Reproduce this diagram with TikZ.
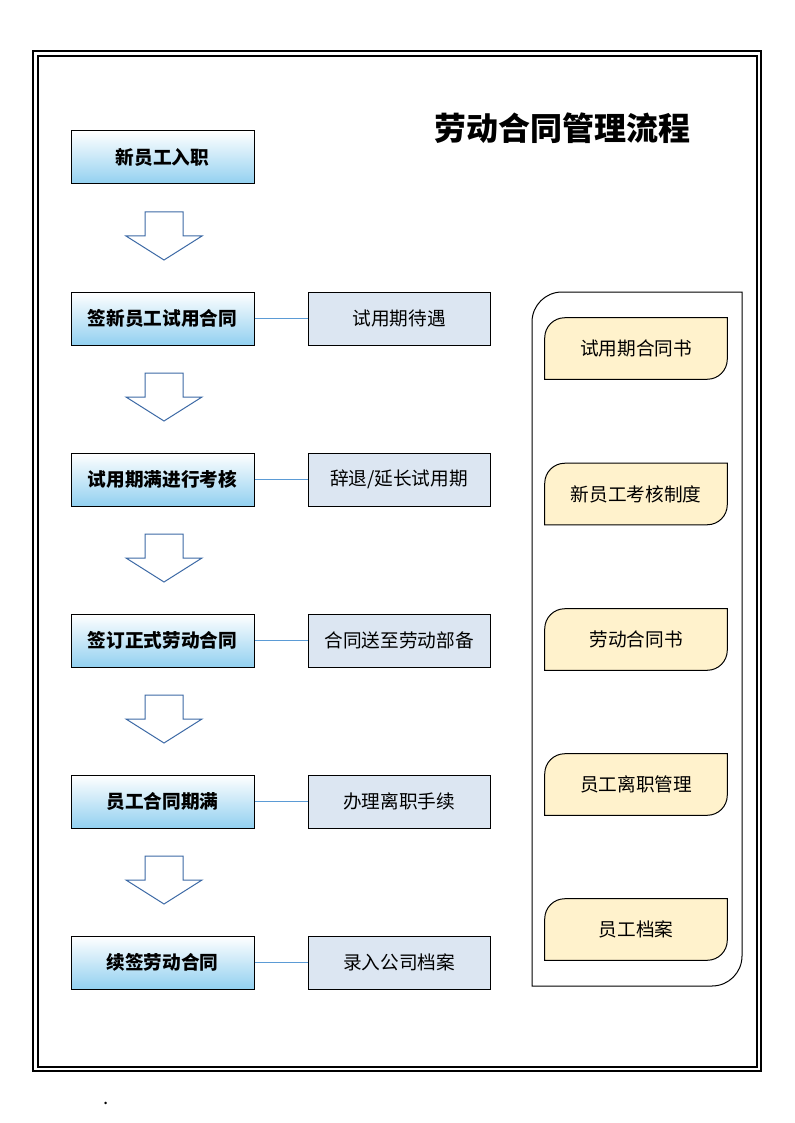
\documentclass[tikz,border=0pt]{standalone}
\usepackage{fontspec}
\setmainfont{Noto Sans CJK SC}
\usetikzlibrary{backgrounds}
\definecolor{linkblue}{RGB}{91,155,213}
\definecolor{arrblue}{RGB}{60,105,165}
\definecolor{notefill}{RGB}{220,230,242}
\definecolor{docfill}{RGB}{255,242,204}
\definecolor{stagebot}{RGB}{146,208,240}
\tikzset{
  stage/.style={draw,line width=0.75pt,top color=white,bottom color=stagebot,
    minimum width=137.25pt,minimum height=39.75pt,inner sep=0pt,font=\fontsize{14pt}{16pt}\selectfont\bfseries},
  note/.style={draw,line width=0.75pt,fill=notefill,minimum width=136.5pt,minimum height=39.75pt,inner sep=0pt},
  doc/.style={minimum width=136.5pt,minimum height=45.75pt,inner sep=0pt},
  docshape/.style={draw,line width=0.75pt,fill=docfill},
  link/.style={linkblue,line width=0.75pt},
  blockarrow/.style={arrblue,line width=0.75pt,fill=white}
}
\begin{document}
\begin{tikzpicture}[x=0.75pt,y=-0.75pt,font=\fontsize{14pt}{16pt}\selectfont]
  \useasboundingbox (0,0) rectangle (794,1123);
  % page frame
  \draw[line width=1pt] (33,51) rectangle (761,1071);
  \draw[line width=1pt] (38,56) rectangle (757,1067);
  \node[font=\fontsize{24pt}{28pt}\selectfont\bfseries] (title) at (562,128) {劳动合同管理流程};
  % steps
  \node[stage] (s1) at (162.5,157.5) {新员工入职};
  \node[stage] (s2) at (162.5,318.5) {签新员工试用合同};
  \node[stage] (s3) at (162.5,479.5) {试用期满进行考核};
  \node[stage] (s4) at (162.5,640.5) {签订正式劳动合同};
  \node[stage] (s5) at (162.5,801.5) {员工合同期满};
  \node[stage] (s6) at (162.5,962.5) {续签劳动合同};
  % notes
  \node[note] (n2) at (399,318.5) {试用期待遇};
  \node[note] (n3) at (399,479.5) {辞退/延长试用期};
  \node[note] (n4) at (399,640.5) {合同送至劳动部备};
  \node[note] (n5) at (399,801.5) {办理离职手续};
  \node[note] (n6) at (399,962.5) {录入公司档案};
  \foreach \i in {2,...,6}
    \draw[link] (s\i) -- (n\i);
  % block arrows
  \foreach \y in {212,373,534,695,856}
    \draw[blockarrow] (145,\y) -- (183,\y) -- (183,\y+24) -- (202,\y+24)
      -- (164,\y+48) -- (126,\y+24) -- (145,\y+24) -- cycle;
  % documents
  \draw[line width=0.75pt] (742,292) -- (742,956) arc[start angle=0,end angle=-90,radius=22.5pt]
    -- (532,986) -- (532,322) arc[start angle=180,end angle=90,radius=22.5pt] -- cycle;
  \node[doc] (d1) at (636,348.5) {试用期合同书};
  \node[doc] (d2) at (636,494) {新员工考核制度};
  \node[doc] (d3) at (636,639.5) {劳动合同书};
  \node[doc] (d4) at (636,784.5) {员工离职管理};
  \node[doc] (d5) at (636,929.5) {员工档案};
  \begin{scope}[on background layer]
    \foreach \n in {d1,d2,d3,d4,d5}
      \draw[docshape] (\n.north east) -- ([yshift=15pt]\n.south east)
        arc[start angle=0,end angle=-90,radius=15pt] -- (\n.south west)
        -- ([yshift=-15pt]\n.north west) arc[start angle=180,end angle=90,radius=15pt] -- cycle;
  \end{scope}
  \node[inner sep=0pt] (dot) at (106,1103) {.};
\end{tikzpicture}
\end{document}
